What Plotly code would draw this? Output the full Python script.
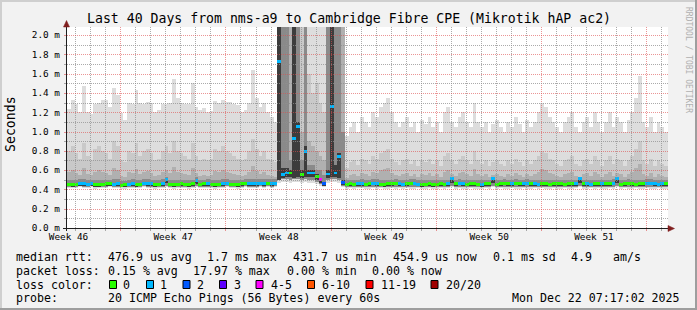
import plotly.graph_objects as go

# ---------------- data (one column = 6 hours, 160 columns over 40 days) ----------------
ping_max = [
    1.23, 1.33, 1.29, 1.20, 1.47, 1.20, 1.18, 1.28, 1.30, 1.33,
    1.33, 1.25, 1.45, 1.38, 1.19, 1.12, 1.30, 1.28, 1.43, 1.30,
    1.29, 1.31, 1.30, 1.20, 1.22, 1.29, 1.28, 1.30, 1.54, 1.35,
    1.30, 1.29, 1.28, 1.50, 1.25, 1.22, 1.24, 1.20, 1.21, 1.32,
    1.30, 1.33, 1.31, 1.31, 1.28, 1.27, 1.20, 1.22, 1.30, 1.64,
    1.35, 1.25, 1.30, 1.20, 1.15, 1.10, 2.30, 2.30, 2.30, 2.30,
    2.30, 2.30, 2.30, 2.30, 2.30, 2.30, 2.30, 2.30, 2.30, 2.30,
    2.30, 2.30, 2.30, 2.30, 0.95, 1.05, 1.10, 1.00, 1.15, 1.10,
    1.05, 1.20, 1.15, 1.25, 1.30, 1.35, 1.20, 1.10, 1.05, 1.10,
    1.15, 1.05, 1.10, 1.00, 1.12, 1.08, 1.15, 1.05, 1.10, 1.00,
    1.20, 1.25, 1.10, 1.05, 1.15, 1.20, 1.10, 1.05, 1.30, 1.10,
    1.05, 1.10, 1.00, 1.08, 1.12, 1.05, 1.00, 1.10, 1.05, 1.15,
    1.08, 1.00, 1.12, 1.05, 1.10, 1.20, 1.30, 1.25, 1.15, 1.10,
    1.05, 1.00, 1.10, 1.15, 1.20, 1.05, 1.00, 1.10, 1.15, 1.05,
    1.20, 1.10, 1.00, 1.10, 1.20, 1.05, 1.15, 1.10, 1.00, 1.12,
    1.20, 1.35, 1.58, 1.10, 1.05, 1.15, 1.00, 1.10, 1.05, 1.00,
]
ping_p90 = [
    0.80, 0.85, 0.78, 0.72, 0.88, 0.75, 0.70, 0.82, 0.85, 0.80,
    0.78, 0.72, 0.90, 0.85, 0.70, 0.68, 0.80, 0.78, 0.88, 0.75,
    0.80, 0.82, 0.78, 0.70, 0.72, 0.80, 0.85, 0.78, 0.90, 0.80,
    0.78, 0.75, 0.72, 0.88, 0.75, 0.70, 0.72, 0.70, 0.72, 0.82,
    0.80, 0.85, 0.80, 0.78, 0.75, 0.72, 0.70, 0.72, 0.80, 0.92,
    0.82, 0.75, 0.80, 0.72, 0.70, 0.68, 2.30, 2.30, 2.30, 2.30,
    2.30, 2.30, 2.30, 2.30, 1.60, 1.40, 1.50, 1.30, 1.20, 2.30,
    2.30, 2.30, 2.30, 2.30, 0.62, 0.68, 0.70, 0.65, 0.72, 0.70,
    0.66, 0.75, 0.72, 0.78, 0.80, 0.82, 0.72, 0.68, 0.65, 0.70,
    0.72, 0.66, 0.70, 0.64, 0.70, 0.68, 0.72, 0.66, 0.70, 0.64,
    0.75, 0.78, 0.70, 0.66, 0.72, 0.75, 0.70, 0.66, 0.80, 0.70,
    0.66, 0.70, 0.64, 0.68, 0.70, 0.66, 0.64, 0.70, 0.66, 0.72,
    0.68, 0.64, 0.70, 0.66, 0.70, 0.75, 0.80, 0.78, 0.72, 0.70,
    0.66, 0.64, 0.70, 0.72, 0.75, 0.66, 0.64, 0.70, 0.72, 0.66,
    0.75, 0.70, 0.64, 0.70, 0.75, 0.66, 0.72, 0.70, 0.64, 0.70,
    0.75, 0.82, 0.90, 0.70, 0.66, 0.72, 0.64, 0.70, 0.66, 0.64,
]
ping_p75 = [
    0.58, 0.60, 0.57, 0.55, 0.62, 0.56, 0.55, 0.58, 0.60, 0.58,
    0.57, 0.55, 0.62, 0.60, 0.54, 0.53, 0.58, 0.57, 0.61, 0.56,
    0.58, 0.59, 0.57, 0.54, 0.55, 0.58, 0.60, 0.57, 0.63, 0.58,
    0.57, 0.56, 0.55, 0.62, 0.57, 0.54, 0.55, 0.54, 0.55, 0.59,
    0.58, 0.60, 0.58, 0.57, 0.56, 0.55, 0.54, 0.55, 0.58, 0.64,
    0.59, 0.56, 0.58, 0.55, 0.54, 0.53, 2.30, 2.30, 2.30, 2.30,
    2.30, 2.30, 1.00, 2.30, 0.90, 0.85, 0.80, 0.75, 0.70, 2.30,
    2.30, 2.30, 2.30, 2.30, 0.52, 0.55, 0.56, 0.54, 0.57, 0.56,
    0.54, 0.58, 0.57, 0.60, 0.61, 0.62, 0.57, 0.55, 0.54, 0.56,
    0.57, 0.54, 0.56, 0.53, 0.56, 0.55, 0.57, 0.54, 0.56, 0.53,
    0.58, 0.60, 0.56, 0.54, 0.57, 0.58, 0.56, 0.54, 0.61, 0.56,
    0.54, 0.56, 0.53, 0.55, 0.56, 0.54, 0.53, 0.56, 0.54, 0.57,
    0.55, 0.53, 0.56, 0.54, 0.56, 0.58, 0.61, 0.60, 0.57, 0.56,
    0.54, 0.53, 0.56, 0.57, 0.58, 0.54, 0.53, 0.56, 0.57, 0.54,
    0.58, 0.56, 0.53, 0.56, 0.58, 0.54, 0.57, 0.56, 0.53, 0.56,
    0.58, 0.62, 0.66, 0.56, 0.54, 0.57, 0.53, 0.56, 0.54, 0.53,
]
ping_p60 = [
    0.50, 0.50, 0.50, 0.51, 0.51, 0.50, 0.50, 0.50, 0.50, 0.50,
    0.50, 0.50, 0.51, 0.51, 0.49, 0.49, 0.50, 0.51, 0.50, 0.50,
    0.51, 0.51, 0.50, 0.50, 0.50, 0.51, 0.53, 0.50, 0.50, 0.50,
    0.50, 0.50, 0.50, 0.50, 0.53, 0.50, 0.50, 0.51, 0.50, 0.50,
    0.50, 0.51, 0.51, 0.50, 0.50, 0.50, 0.50, 0.51, 0.51, 0.51,
    0.51, 0.51, 0.51, 0.51, 0.51, 0.51, 2.30, 2.30, 2.30, 0.70,
    2.30, 2.30, 0.70, 2.30, 0.65, 0.65, 0.60, 0.60, 0.55, 2.30,
    2.30, 2.30, 2.30, 1.00, 0.50, 0.50, 0.50, 0.50, 0.51, 0.50,
    0.50, 0.51, 0.51, 0.50, 0.50, 0.50, 0.50, 0.51, 0.50, 0.50,
    0.50, 0.51, 0.51, 0.50, 0.50, 0.50, 0.50, 0.50, 0.50, 0.50,
    0.50, 0.50, 0.53, 0.50, 0.51, 0.50, 0.50, 0.50, 0.50, 0.50,
    0.50, 0.50, 0.50, 0.53, 0.50, 0.50, 0.51, 0.50, 0.50, 0.51,
    0.50, 0.50, 0.51, 0.50, 0.50, 0.50, 0.50, 0.50, 0.50, 0.50,
    0.50, 0.50, 0.50, 0.50, 0.50, 0.50, 0.53, 0.50, 0.50, 0.50,
    0.50, 0.50, 0.50, 0.50, 0.50, 0.51, 0.53, 0.50, 0.50, 0.51,
    0.50, 0.50, 0.50, 0.50, 0.51, 0.51, 0.50, 0.50, 0.50, 0.50,
]
ping_core_top = [
    0.47, 0.46, 0.47, 0.47, 0.47, 0.47, 0.47, 0.46, 0.46, 0.47,
    0.47, 0.47, 0.47, 0.47, 0.46, 0.46, 0.47, 0.47, 0.46, 0.47,
    0.48, 0.47, 0.47, 0.46, 0.47, 0.47, 0.52, 0.47, 0.46, 0.47,
    0.47, 0.47, 0.46, 0.47, 0.51, 0.47, 0.47, 0.47, 0.47, 0.46,
    0.47, 0.47, 0.48, 0.47, 0.47, 0.46, 0.47, 0.48, 0.47, 0.47,
    0.47, 0.48, 0.47, 0.48, 0.47, 0.48, 2.30, 0.62, 0.62, 0.60,
    2.30, 1.10, 0.60, 0.85, 0.60, 0.60, 0.56, 0.52, 0.48, 0.60,
    2.30, 0.65, 0.78, 0.50, 0.47, 0.47, 0.47, 0.47, 0.47, 0.47,
    0.47, 0.48, 0.47, 0.47, 0.46, 0.47, 0.47, 0.48, 0.47, 0.47,
    0.47, 0.48, 0.48, 0.47, 0.46, 0.47, 0.47, 0.46, 0.47, 0.47,
    0.47, 0.47, 0.53, 0.47, 0.48, 0.47, 0.47, 0.47, 0.47, 0.47,
    0.46, 0.47, 0.47, 0.53, 0.47, 0.47, 0.48, 0.47, 0.47, 0.48,
    0.47, 0.47, 0.48, 0.47, 0.47, 0.47, 0.47, 0.47, 0.47, 0.47,
    0.47, 0.47, 0.47, 0.47, 0.47, 0.47, 0.53, 0.47, 0.47, 0.47,
    0.47, 0.47, 0.47, 0.47, 0.47, 0.48, 0.53, 0.47, 0.47, 0.48,
    0.47, 0.47, 0.47, 0.47, 0.48, 0.48, 0.47, 0.47, 0.47, 0.47,
]
median_rtt = [
    0.455, 0.450, 0.455, 0.460, 0.460, 0.455, 0.460, 0.450, 0.450, 0.455,
    0.460, 0.460, 0.455, 0.460, 0.445, 0.450, 0.455, 0.460, 0.450, 0.455,
    0.465, 0.460, 0.460, 0.450, 0.455, 0.460, 0.500, 0.455, 0.450, 0.455,
    0.460, 0.455, 0.450, 0.460, 0.490, 0.455, 0.460, 0.460, 0.455, 0.450,
    0.455, 0.460, 0.465, 0.455, 0.455, 0.450, 0.460, 0.465, 0.460, 0.460,
    0.460, 0.465, 0.460, 0.465, 0.460, 0.465, 1.730, 0.550, 0.570, 0.570,
    0.930, 1.050, 0.550, 0.790, 0.570, 0.570, 0.530, 0.500, 0.460, 0.560,
    1.260, 0.570, 0.740, 0.470, 0.455, 0.460, 0.455, 0.460, 0.460, 0.455,
    0.460, 0.465, 0.460, 0.455, 0.450, 0.460, 0.460, 0.465, 0.460, 0.455,
    0.460, 0.465, 0.465, 0.455, 0.450, 0.455, 0.460, 0.450, 0.455, 0.460,
    0.455, 0.460, 0.510, 0.460, 0.465, 0.460, 0.455, 0.460, 0.460, 0.455,
    0.450, 0.460, 0.460, 0.510, 0.455, 0.460, 0.465, 0.460, 0.460, 0.465,
    0.460, 0.460, 0.465, 0.460, 0.460, 0.455, 0.460, 0.460, 0.455, 0.460,
    0.460, 0.460, 0.455, 0.460, 0.460, 0.460, 0.510, 0.460, 0.460, 0.455,
    0.460, 0.460, 0.460, 0.460, 0.460, 0.465, 0.510, 0.455, 0.460, 0.465,
    0.460, 0.455, 0.460, 0.460, 0.465, 0.465, 0.460, 0.455, 0.460, 0.460,
]
ping_core_low = [
    0.435, 0.43, 0.435, 0.44, 0.44, 0.435, 0.44, 0.43, 0.43, 0.435,
    0.44, 0.44, 0.435, 0.44, 0.425, 0.43, 0.435, 0.44, 0.43, 0.435,
    0.445, 0.44, 0.44, 0.43, 0.435, 0.44, 0.47, 0.435, 0.43, 0.435,
    0.44, 0.435, 0.43, 0.44, 0.46, 0.435, 0.44, 0.44, 0.435, 0.43,
    0.435, 0.44, 0.445, 0.435, 0.435, 0.43, 0.44, 0.445, 0.44, 0.44,
    0.44, 0.445, 0.44, 0.445, 0.44, 0.445, 0.50, 0.52, 0.53, 0.53,
    0.52, 0.53, 0.52, 0.53, 0.53, 0.53, 0.50, 0.47, 0.44, 0.52,
    0.53, 0.53, 0.52, 0.45, 0.435, 0.44, 0.435, 0.44, 0.44, 0.435,
    0.44, 0.445, 0.44, 0.435, 0.43, 0.44, 0.44, 0.445, 0.44, 0.435,
    0.44, 0.445, 0.445, 0.435, 0.43, 0.435, 0.44, 0.43, 0.435, 0.44,
    0.435, 0.44, 0.47, 0.44, 0.445, 0.44, 0.435, 0.44, 0.44, 0.435,
    0.43, 0.44, 0.44, 0.47, 0.435, 0.44, 0.445, 0.44, 0.44, 0.445,
    0.44, 0.44, 0.445, 0.44, 0.44, 0.435, 0.44, 0.44, 0.435, 0.44,
    0.44, 0.44, 0.435, 0.44, 0.44, 0.44, 0.47, 0.44, 0.44, 0.435,
    0.44, 0.44, 0.44, 0.44, 0.44, 0.445, 0.47, 0.435, 0.44, 0.445,
    0.44, 0.435, 0.44, 0.44, 0.445, 0.445, 0.44, 0.435, 0.44, 0.44,
]
ping_lowmid = [
    0.43, 0.43, 0.43, 0.44, 0.43, 0.43, 0.44, 0.42, 0.43, 0.43,
    0.43, 0.44, 0.43, 0.43, 0.42, 0.42, 0.43, 0.43, 0.43, 0.43,
    0.44, 0.43, 0.43, 0.42, 0.43, 0.43, 0.44, 0.43, 0.42, 0.43,
    0.43, 0.43, 0.42, 0.43, 0.44, 0.43, 0.43, 0.43, 0.43, 0.42,
    0.43, 0.43, 0.44, 0.43, 0.43, 0.42, 0.43, 0.44, 0.43, 0.43,
    0.43, 0.44, 0.43, 0.44, 0.43, 0.44, 0.50, 0.51, 0.51, 0.50,
    0.51, 0.51, 0.50, 0.51, 0.50, 0.50, 0.48, 0.46, 0.44, 0.50,
    0.51, 0.51, 0.50, 0.44, 0.43, 0.43, 0.43, 0.43, 0.43, 0.43,
    0.43, 0.43, 0.43, 0.43, 0.42, 0.43, 0.43, 0.43, 0.43, 0.43,
    0.43, 0.43, 0.43, 0.43, 0.42, 0.43, 0.43, 0.42, 0.43, 0.43,
    0.43, 0.43, 0.44, 0.43, 0.43, 0.43, 0.43, 0.43, 0.43, 0.43,
    0.42, 0.43, 0.43, 0.44, 0.43, 0.43, 0.43, 0.43, 0.43, 0.43,
    0.43, 0.43, 0.43, 0.43, 0.43, 0.43, 0.43, 0.43, 0.43, 0.43,
    0.43, 0.43, 0.43, 0.43, 0.43, 0.43, 0.44, 0.43, 0.43, 0.43,
    0.43, 0.43, 0.43, 0.43, 0.43, 0.43, 0.44, 0.43, 0.43, 0.43,
    0.43, 0.43, 0.43, 0.43, 0.43, 0.43, 0.43, 0.43, 0.43, 0.43,
]
ping_low = [
    0.41, 0.41, 0.41, 0.42, 0.41, 0.41, 0.42, 0.40, 0.41, 0.41,
    0.41, 0.42, 0.41, 0.41, 0.40, 0.40, 0.41, 0.41, 0.41, 0.41,
    0.42, 0.41, 0.41, 0.40, 0.41, 0.41, 0.42, 0.41, 0.40, 0.41,
    0.41, 0.41, 0.40, 0.41, 0.42, 0.41, 0.41, 0.41, 0.41, 0.40,
    0.41, 0.41, 0.42, 0.41, 0.41, 0.40, 0.41, 0.42, 0.41, 0.41,
    0.41, 0.42, 0.41, 0.42, 0.41, 0.42, 0.47, 0.48, 0.48, 0.47,
    0.48, 0.48, 0.47, 0.48, 0.47, 0.47, 0.46, 0.44, 0.43, 0.47,
    0.48, 0.48, 0.47, 0.43, 0.40, 0.41, 0.40, 0.41, 0.41, 0.40,
    0.40, 0.41, 0.40, 0.41, 0.40, 0.40, 0.41, 0.40, 0.41, 0.40,
    0.41, 0.40, 0.40, 0.41, 0.40, 0.40, 0.41, 0.40, 0.40, 0.41,
    0.40, 0.41, 0.42, 0.40, 0.41, 0.40, 0.40, 0.41, 0.40, 0.40,
    0.40, 0.41, 0.40, 0.42, 0.40, 0.41, 0.40, 0.40, 0.41, 0.40,
    0.40, 0.41, 0.40, 0.40, 0.41, 0.40, 0.41, 0.40, 0.40, 0.41,
    0.40, 0.40, 0.41, 0.40, 0.40, 0.41, 0.42, 0.40, 0.40, 0.41,
    0.40, 0.41, 0.40, 0.40, 0.41, 0.40, 0.42, 0.40, 0.41, 0.40,
    0.40, 0.41, 0.40, 0.40, 0.41, 0.40, 0.40, 0.41, 0.40, 0.40,
]
lost_pings = [
    0, 0, 0, 1, 1, 1, 1, 0, 0, 0,
    0, 0, 1, 1, 0, 0, 1, 1, 0, 0,
    1, 1, 1, 0, 0, 1, 1, 0, 0, 0,
    0, 0, 0, 0, 1, 0, 0, 1, 0, 0,
    0, 1, 1, 0, 0, 0, 0, 0, 1, 1,
    1, 1, 1, 0, 1, 1, 1, 1, 1, 0,
    1, 1, 0, 1, 1, 1, 0, 4, 2, 1,
    1, 1, 1, 2, 0, 0, 0, 1, 1, 0,
    0, 1, 1, 0, 0, 0, 0, 0, 1, 1,
    0, 0, 1, 1, 0, 0, 0, 0, 0, 0,
    0, 1, 1, 0, 1, 1, 0, 0, 0, 0,
    1, 0, 0, 1, 0, 0, 0, 0, 1, 0,
    0, 1, 1, 0, 1, 1, 0, 0, 0, 0,
    0, 0, 0, 0, 0, 1, 1, 0, 1, 1,
    0, 0, 1, 0, 0, 1, 1, 0, 0, 0,
    0, 0, 0, 0, 1, 1, 1, 1, 1, 0,
]
COLUMN_DAYS = 0.25
TOTAL_DAYS = 40

week_labels = ["Week 46", "Week 47", "Week 48", "Week 49", "Week 50", "Week 51"]
week_pos = [0.1, 7.07, 14.1, 21.1, 28.1, 35.07]
y_tick_vals = [0.0, 0.2, 0.4, 0.6, 0.8, 1.0, 1.2, 1.4, 1.6, 1.8, 2.0]
y_tick_text = ["0.0 m", "0.2 m", "0.4 m", "0.6 m", "0.8 m", "1.0 m",
               "1.2 m", "1.4 m", "1.6 m", "1.8 m", "2.0 m"]
major_x_grid = [3.58, 10.58, 17.58, 24.58, 31.58, 38.58]
minor_x_grid = [0.58 + k for k in range(40)]
minor_y_grid = [0.1, 0.3, 0.5, 0.7, 0.9, 1.1, 1.3, 1.5, 1.7, 1.9]

loss_legend = [("0", "#26ff00"), ("1", "#00b8ff"), ("2", "#0059ff"), ("3", "#5e00ff"),
               ("4-5", "#ff00ff"), ("6-10", "#ff5500"), ("11-19", "#ff0000"), ("20/20", "#a10000")]
loss_bins = [0, 1, 2, 3, 5, 10, 19, 20]

title = "Last 40 Days from nms-a9 to Cambridge Fibre CPE (Mikrotik hAP ac2)"
rtt_row = [("median rtt:", 16), ("476.9 us avg", 107.5), ("1.7 ms max", 207.4),
           ("431.7 us min", 293.3), ("454.9 us now", 393.2), ("0.1 ms sd", 493.2),
           ("4.9", 570.5), ("am/s", 613.3)]
loss_row = [("packet loss:", 16), ("0.15 % avg", 107.5), ("17.97 % max", 193.3),
            ("0.00 % min", 286.5), ("0.00 % now", 372.4)]
probe_text = "20 ICMP Echo Pings (56 Bytes) every 60s"
date_text = "Mon Dec 22 07:17:02 2025"

# ---------------- geometry ----------------
W, H = 697, 310
PL, PR, PT, PB = 67, 668, 27, 228  # plot area in pixels
PW, PH = PR - PL, PB - PT
YMAX = 2.083
FONT = "DejaVu Sans Mono"


def xp(px):
    return (px - PL) / PW


def yp(py):
    return (PB - py) / PH


def color_for_loss(n):
    for b, (_, c) in zip(loss_bins, loss_legend):
        if n <= b:
            return c
    return loss_legend[-1][1]


days = [COLUMN_DAYS * (i + 0.5) for i in range(len(median_rtt))]

fig = go.Figure()


def smoke(lo, hi, color):
    fig.add_trace(go.Bar(x=days, base=lo, y=[h - l for h, l in zip(hi, lo)],
                         width=COLUMN_DAYS, marker=dict(color=color, line=dict(width=0)),
                         hoverinfo="skip", showlegend=False))


smoke(ping_low, ping_max, "#dddddd")
smoke(ping_lowmid, ping_p90, "#c9c9c9")
smoke(ping_lowmid, ping_p75, "#b0b0b0")
smoke(ping_lowmid, ping_p60, "#8a8a8a")
smoke(ping_core_low, ping_core_top, "#3c3c3c")

fig.add_trace(go.Bar(x=days, base=[m - 0.015 for m in median_rtt], y=[0.03] * len(median_rtt),
                     width=COLUMN_DAYS,
                     marker=dict(color=[color_for_loss(n) for n in lost_pings], line=dict(width=0)),
                     hoverinfo="skip", showlegend=False))

shapes = []
grid_minor = "rgba(143,143,143,0.75)"
grid_major = "rgba(222,79,79,0.6)"


def vline_days(d, color):
    px = int(PL + d * PW / TOTAL_DAYS) + 0.5
    shapes.append(dict(type="line", xref="paper", yref="paper", x0=xp(px), x1=xp(px),
                       y0=yp(PT), y1=yp(PB), layer="above",
                       line=dict(color=color, width=1, dash="1px,1px")))
    shapes.append(dict(type="line", xref="paper", yref="paper", x0=xp(px), x1=xp(px),
                       y0=yp(PB), y1=yp(PB + 3), layer="above",
                       line=dict(color=color, width=1)))


def hline_ms(v, color):
    py = round(PB - v * PH / YMAX) + 0.5
    shapes.append(dict(type="line", xref="paper", yref="paper", x0=xp(PL), x1=xp(PR),
                       y0=yp(py), y1=yp(py), layer="above",
                       line=dict(color=color, width=1, dash="1px,1px")))
    shapes.append(dict(type="line", xref="paper", yref="paper", x0=xp(PL - 3), x1=xp(PL),
                       y0=yp(py), y1=yp(py), layer="above",
                       line=dict(color=color, width=1)))


for d in minor_x_grid:
    if all(abs(d - m) > 0.3 for m in major_x_grid):
        vline_days(d, grid_minor)
for d in major_x_grid:
    vline_days(d, grid_major)
for v in minor_y_grid:
    hline_ms(v, grid_minor)
for v in y_tick_vals[1:]:
    hline_ms(v, grid_major)

axis_col = "#1f1f1f"
arrow_col = "#801f1f"
# axes
shapes.append(dict(type="line", xref="paper", yref="paper", x0=xp(66.5), x1=xp(66.5),
                   y0=yp(231), y1=yp(24), layer="above", line=dict(color=axis_col, width=1)))
shapes.append(dict(type="line", xref="paper", yref="paper", x0=xp(63), x1=xp(670),
                   y0=yp(228.5), y1=yp(228.5), layer="above", line=dict(color=axis_col, width=1)))
# arrows
shapes.append(dict(type="path", xref="paper", yref="paper", layer="above",
                   path=f"M {xp(63.5)},{yp(27)} L {xp(66.5)},{yp(20.5)} L {xp(69.5)},{yp(27)} Z",
                   fillcolor=arrow_col, line=dict(color=arrow_col, width=0.5)))
shapes.append(dict(type="path", xref="paper", yref="paper", layer="above",
                   path=f"M {xp(668)},{yp(225.5)} L {xp(674.5)},{yp(228.5)} L {xp(668)},{yp(231.5)} Z",
                   fillcolor=arrow_col, line=dict(color=arrow_col, width=0.5)))
# 3D frame
shapes.append(dict(type="rect", xref="paper", yref="paper", x0=xp(0), x1=xp(W), y0=yp(0), y1=yp(2),
                   fillcolor="#cfcfcf", line=dict(width=0), layer="above"))
shapes.append(dict(type="rect", xref="paper", yref="paper", x0=xp(0), x1=xp(2), y0=yp(0), y1=yp(H),
                   fillcolor="#cfcfcf", line=dict(width=0), layer="above"))
shapes.append(dict(type="rect", xref="paper", yref="paper", x0=xp(0), x1=xp(W), y0=yp(H - 2), y1=yp(H),
                   fillcolor="#9e9e9e", line=dict(width=0), layer="above"))
shapes.append(dict(type="rect", xref="paper", yref="paper", x0=xp(W - 2), x1=xp(W), y0=yp(0), y1=yp(H),
                   fillcolor="#9e9e9e", line=dict(width=0), layer="above"))

annotations = []


def text(x, y, s, size=11.6, anchor="left", color="#000000", angle=0):
    annotations.append(dict(x=xp(x), y=yp(y), xref="paper", yref="paper", text=s, showarrow=False,
                            xanchor=anchor, yanchor="middle", textangle=angle,
                            borderpad=0, borderwidth=0,
                            font=dict(family=FONT, size=size, color=color)))


text(348.5, 19, title, size=13.2, anchor="center")
text(10, 124, "Seconds", size=13.2, anchor="center", angle=-90)
text(689, 60, "RRDTOOL / TOBI OETIKER", size=8, anchor="center", color="#b0b0b0", angle=90)

ROW1, ROW2, ROW3, ROW4 = 257, 271, 284.5, 298
for s, x in rtt_row:
    text(x, ROW1, s)
for s, x in loss_row:
    text(x, ROW2, s)
text(16, ROW3, "loss color:")
box_x = [109, 146, 182.5, 219, 255.5, 307, 365.5, 430.5]
lab_x = [123, 160, 197, 234, 271, 322, 381, 446]
for (lab, col), bx, lx in zip(loss_legend, box_x, lab_x):
    shapes.append(dict(type="rect", xref="paper", yref="paper", x0=xp(bx + 0.5), x1=xp(bx + 7.5),
                       y0=yp(ROW3 - 4), y1=yp(ROW3 + 4), fillcolor=col,
                       line=dict(color="#000000", width=1), layer="above"))
    text(lx, ROW3, lab)
text(16, ROW4, "probe:")
text(107.5, ROW4, probe_text)
text(680, ROW4, date_text, anchor="right")

fig.update_layout(
    width=W, height=H,
    margin=dict(l=PL, r=W - PR, t=PT, b=H - PB, pad=0),
    paper_bgcolor="#f2f2f2", plot_bgcolor="#ffffff",
    barmode="overlay", bargap=0,
    showlegend=False,
    shapes=shapes, annotations=annotations,
    xaxis=dict(range=[0, TOTAL_DAYS], showgrid=False, zeroline=False, showline=False,
               tickmode="array", tickvals=week_pos, ticktext=week_labels, ticks="",
               ticklabelstandoff=2,
               tickfont=dict(family=FONT, size=9.4, color="#000000"), fixedrange=True),
    yaxis=dict(range=[0, YMAX], showgrid=False, zeroline=False, showline=False,
               tickmode="array", tickvals=y_tick_vals, ticktext=y_tick_text, ticks="",
               ticklabelstandoff=6,
               tickfont=dict(family=FONT, size=9.4, color="#000000"), fixedrange=True),
)

fig.write_html("out.html", config={"displayModeBar": False})
